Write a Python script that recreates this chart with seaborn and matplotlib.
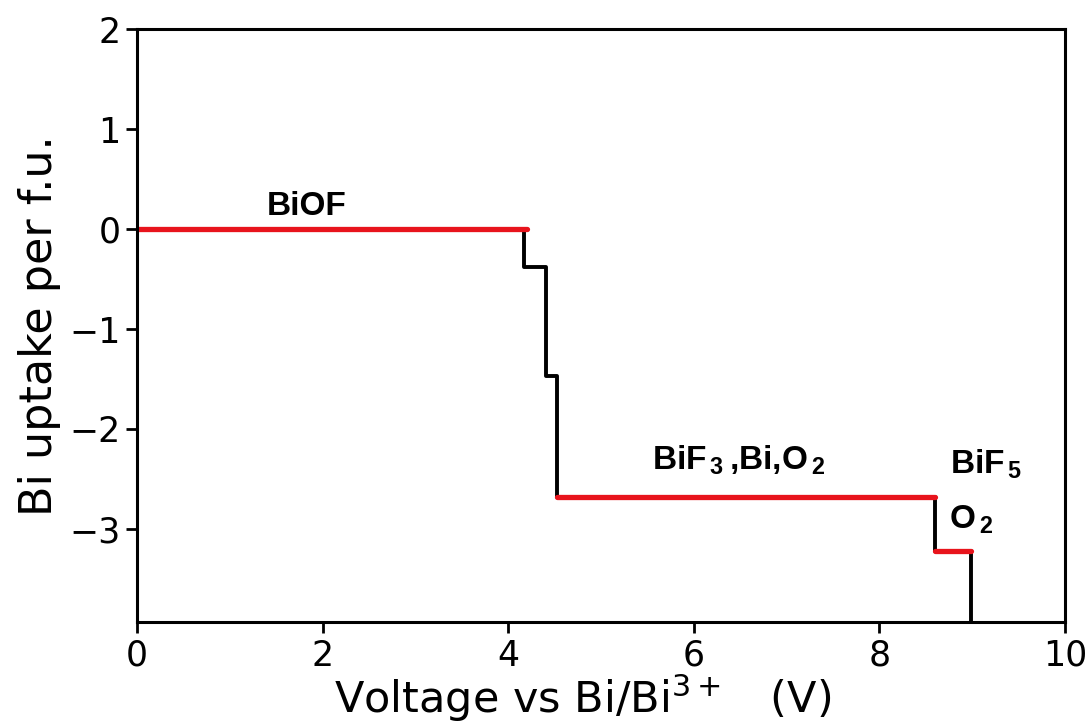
import matplotlib
matplotlib.use("Agg")
import matplotlib.pyplot as plt
import seaborn as sns
import pandas as pd

# ---- data ----
# step edges (V) and Bi uptake per f.u. after each edge
step_voltage = [0.0, 4.17, 4.41, 4.53, 8.60, 8.99]
step_uptake = [0.0, -0.38, -1.47, -2.68, -3.22, -4.60]

# stable phase segments (red)
stable_start = [0.0, 4.53, 8.60]
stable_end = [4.20, 8.60, 8.99]
stable_level = [0.0, -2.68, -3.22]

x_ticks = [0, 2, 4, 6, 8, 10]
y_ticks = [-3, -2, -1, 0, 1, 2]

labels = ["BiOF",
          r"BiF$_{\,\mathbf{3}}\,$,Bi,O$_{\,\mathbf{2}}$",
          r"BiF$_{\,\mathbf{5}}$",
          r"O$_{\,\mathbf{2}}$"]
label_x = [1.40, 5.55, 8.76, 8.75]
label_y = [0.14, -2.40, -2.44, -2.99]

# ---- styling ----
sns.set_style("ticks")
plt.rcParams["font.family"] = ["DejaVu Sans"]
plt.rcParams["text.color"] = "black"
plt.rcParams["axes.labelcolor"] = "black"
plt.rcParams["xtick.color"] = "black"
plt.rcParams["ytick.color"] = "black"
plt.rcParams["mathtext.fontset"] = "custom"
plt.rcParams["mathtext.rm"] = "Liberation Sans:bold"
plt.rcParams["mathtext.bf"] = "Liberation Sans:bold"

fig = plt.figure(figsize=(10.9, 7.26), dpi=100)
ax = fig.add_axes([0.1257, 0.1433, 0.977 - 0.1257, 0.960 - 0.1433])

red = "#e8141c"

sns.lineplot(x=step_voltage, y=step_uptake, drawstyle="steps-post",
             estimator=None, sort=False, color="black", linewidth=2.8, ax=ax)

seg_rows = []
for i, (s, e, lv) in enumerate(zip(stable_start, stable_end, stable_level)):
    seg_rows.append({"x": s, "y": lv, "seg": i})
    seg_rows.append({"x": e, "y": lv, "seg": i})
seg_df = pd.DataFrame(seg_rows)
sns.lineplot(data=seg_df, x="x", y="y", units="seg", estimator=None,
             sort=False, color=red, linewidth=3.8, ax=ax)

for txt, tx, ty in zip(labels, label_x, label_y):
    ax.text(tx, ty, txt, ha="left", va="baseline", fontsize=24, color="black",
            fontweight="bold", family="Liberation Sans", math_fontfamily="custom")

ax.set_xlim(0, 10)
ax.set_ylim(-3.93, 2)
ax.set_xticks(x_ticks)
ax.set_yticks(y_ticks)
ax.tick_params(axis="both", labelsize=25, width=2, length=8, color="black",
               labelcolor="black", pad=4)
ax.set_xlabel(r"Voltage vs Bi/Bi$^{3+}$   (V)", fontsize=31, color="black",
              math_fontfamily="dejavusans", labelpad=0)
ax.xaxis.label.set_x(0.48)
ax.set_ylabel("Bi uptake per f.u.", fontsize=32, color="black", labelpad=6)

for sp in ax.spines.values():
    sp.set_visible(True)
    sp.set_linewidth(2.2)
    sp.set_color("black")

fig.savefig("out.png", dpi=100)
